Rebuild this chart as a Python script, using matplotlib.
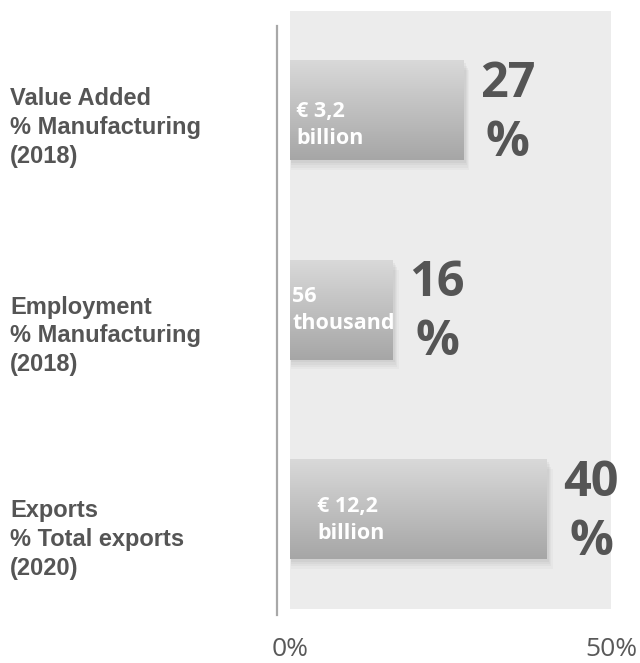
import matplotlib

matplotlib.use("Agg")
import matplotlib.pyplot as plt
import numpy as np
from matplotlib.colors import LinearSegmentedColormap
from matplotlib.lines import Line2D
from matplotlib.patches import Rectangle

categories = [
    "Value Added\n% Manufacturing\n(2018)",
    "Employment\n% Manufacturing\n(2018)",
    "Exports\n% Total exports\n(2020)",
]
shares = [27, 16, 40]
amounts = ["€ 3,2\nbillion", "56\nthousand", "€ 12,2\nbillion"]
x_ticks = [0, 50]
x_tick_labels = ["0%", "50%"]

# layout tweaks for the in-bar text (points) and the row captions (pixels)
inner_dx = [4.5, 1.5, 19.5]
inner_dy = [-10.5, 0, -7.5]
caption_dy = [-17, -26, -30]

BG = "#ececec"
DARK = "#555555"
bar_cmap = LinearSegmentedColormap.from_list("bar", ["#d9d9d9", "#a6a6a6"])
gradient = np.linspace(0, 1, 256).reshape(-1, 1)

fig = plt.figure(figsize=(6.4, 6.63), dpi=100)
W, H = 640, 663
ax = fig.add_axes([290 / W, 1 - 609 / H, 321 / W, 598 / H])
ax.set_facecolor(BG)
for s in ax.spines.values():
    s.set_visible(False)

h = 0.5
for i, (v, amt) in enumerate(zip(shares, amounts)):
    # soft drop shadow
    for k, a in enumerate([0.04, 0.05, 0.05, 0.06]):
        d = (4 - k) * 0.008
        ax.add_patch(Rectangle((0.2, i - h / 2 + d * 1.5), v + d * 22, h,
                               facecolor="#606060", alpha=a, lw=0, zorder=1))
    ax.imshow(gradient, cmap=bar_cmap, aspect="auto", origin="upper",
              extent=(0, v, i + h / 2, i - h / 2), zorder=2)

    ax.annotate(f"{v}\n%", xy=(v, i), xytext=(32, -2.5), textcoords="offset points",
                ha="center", va="center", fontsize=35, fontweight="bold",
                family="Open Sans", color=DARK, linespacing=1.27)

    ax.annotate(amt, xy=(0, i), xytext=(inner_dx[i], inner_dy[i]),
                textcoords="offset points", ha="left", va="center",
                fontsize=15.5, fontweight="bold", family="Open Sans",
                color="white", linespacing=1.4, zorder=3)

ax.set_xlim(0, 50)
ax.set_ylim(2.5, -0.5)
ax.set_yticks([])
ax.set_xticks(x_ticks)
ax.set_xticklabels(x_tick_labels, family="Open Sans", fontsize=19, color="#595959")
ax.tick_params(axis="x", length=0, pad=20)

# row captions on the left
for i, cat in enumerate(categories):
    y_px = ax.transData.transform((0, i))[1] + caption_dy[i]
    fig.text(10 / W, y_px / H, cat, ha="left", va="center", fontsize=17,
             fontweight="bold", family="Liberation Sans", color=DARK,
             linespacing=1.33)

# thin separator line left of the plot
fig.add_artist(Line2D([276.5 / W, 276.5 / W], [1 - 26 / H, 1 - 615 / H],
                      color="#a8a8a8", lw=1.6))

fig.savefig("out.png", dpi=100)
